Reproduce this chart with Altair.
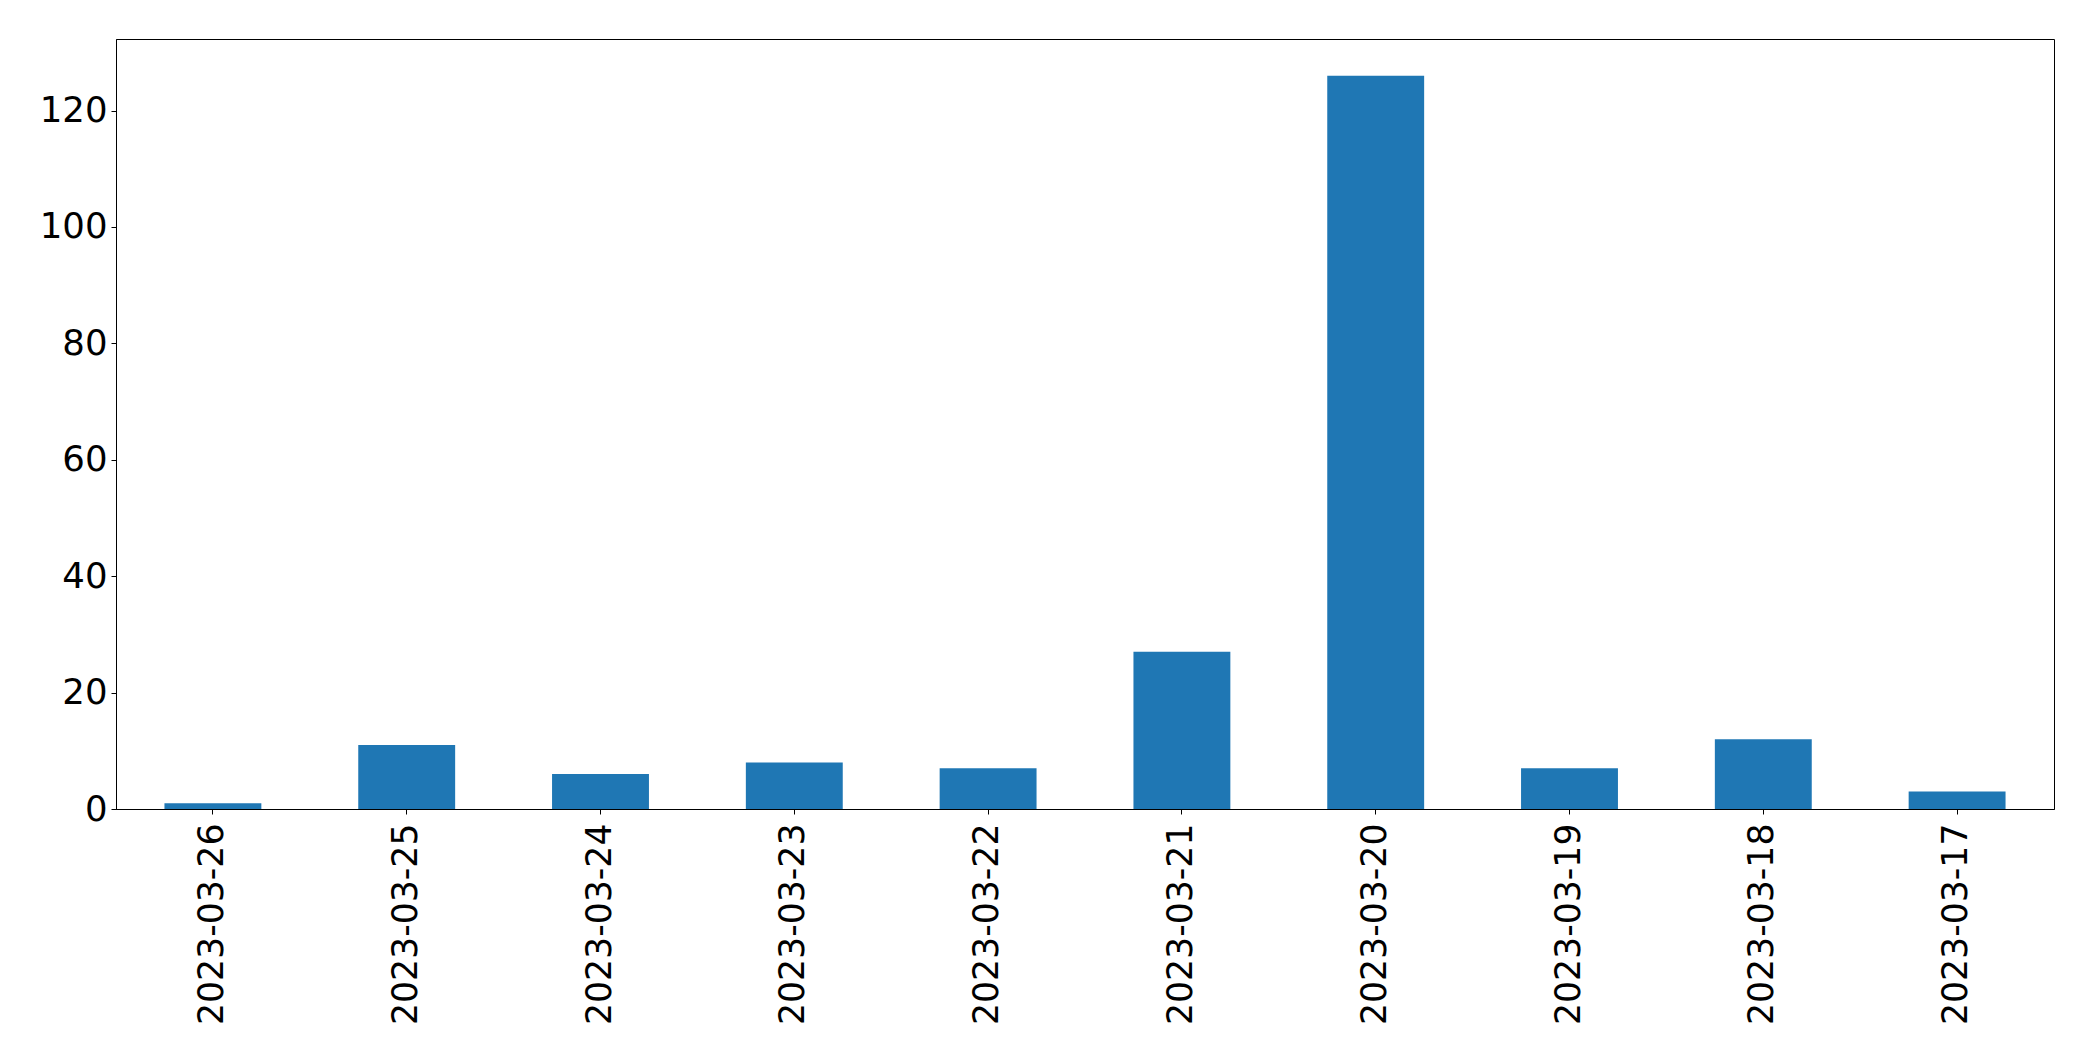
import altair as alt
import pandas as pd

dates = ["2023-03-26", "2023-03-25", "2023-03-24", "2023-03-23", "2023-03-22",
         "2023-03-21", "2023-03-20", "2023-03-19", "2023-03-18", "2023-03-17"]
counts = [1, 11, 6, 8, 7, 27, 126, 7, 12, 3]

df = pd.DataFrame({"date": dates, "count": counts})

chart = alt.Chart(df).mark_bar(color="#1f77b4").encode(
    x=alt.X("date:N", sort=None, title=None,
            scale=alt.Scale(paddingInner=0.5, paddingOuter=0.25),
            axis=alt.Axis(labelAngle=270, labelAlign="right", labelBaseline="middle",
                          labelPadding=9, tickSize=5, labelLimit=0, labelFontSize=34.7)),
    y=alt.Y("count:Q", title=None,
            scale=alt.Scale(domain=[0, 132.3], nice=False, zero=True),
            axis=alt.Axis(values=[0, 20, 40, 60, 80, 100, 120], labelPadding=4, tickSize=5,
                          labelFontSize=35.5)),
).properties(
    width=1938, height=770,
    autosize=alt.AutoSizeParams(type="none"),
    padding={"left": 108, "top": 31, "right": 20, "bottom": 230},
).configure_view(
    stroke="black", strokeWidth=1
).configure_axis(
    grid=False, domainColor="black", domainWidth=1, tickColor="black", tickWidth=1,
    labelColor="black", labelFont="DejaVu Sans", labelFlush=False,
    labelOverlap=False
)

chart.save("out.html", embed_options={"renderer": "svg", "actions": False})
